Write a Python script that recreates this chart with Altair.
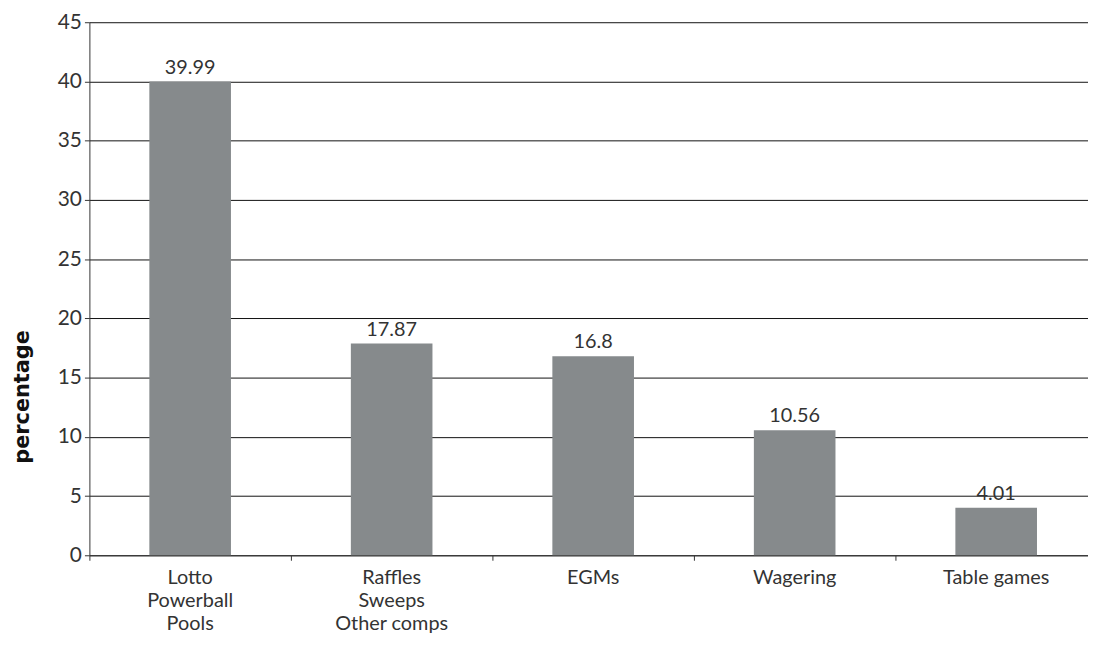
import altair as alt
import pandas as pd

categories = ["Lotto|Powerball|Pools", "Raffles|Sweeps|Other comps", "EGMs", "Wagering", "Table games"]
values = [39.99, 17.87, 16.8, 10.56, 4.01]
value_labels = ["39.99", "17.87", "16.8", "10.56", "4.01"]
y_ticks = [0, 5, 10, 15, 20, 25, 30, 35, 40, 45]

df = pd.DataFrame({"category": categories, "value": values, "label": value_labels})

FONT = "Lato"
TXT = "#333333"

x = alt.X("category:N", sort=categories, title=None,
          scale=alt.Scale(paddingInner=0, paddingOuter=0),
          axis=alt.Axis(labelAngle=0, labelExpr="split(datum.label, '|')",
                        labelFont=FONT, labelFontSize=20, labelColor=TXT,
                        labelLineHeight=23.5, labelPadding=7,
                        bandPosition=0, ticks=True, tickSize=5, tickColor=TXT,
                        domainColor=TXT, grid=False, labelBaseline="top"))

y = alt.Y("value:Q", title="percentage",
          scale=alt.Scale(domain=[0, 45], nice=False),
          axis=alt.Axis(values=y_ticks, labelFont=FONT, labelFontSize=21,
                        labelColor=TXT,
                        tickSize=5, tickColor=TXT, domainColor=TXT,
                        grid=True, gridColor="#111111", gridWidth=1, gridOpacity=1,
                        titleFont="DejaVu Sans", titleFontSize=21, titleFontWeight="bold",
                        titleColor="#111111", titlePadding=25, titleY=377, labelPadding=3))

bars = alt.Chart(df).mark_bar(color="#868a8c", width=alt.RelativeBandSize(0.405)).encode(x=x, y=y)
texts = alt.Chart(df).mark_text(baseline="bottom", dy=-4, font=FONT,
                                fontSize=20, color=TXT).encode(
    x=alt.X("category:N", sort=categories), y="value:Q", text="label:N")

chart = (bars + texts).properties(
    width=1015, height=537,
    autosize=alt.AutoSizeParams(type="none"),
    padding={"left": 82, "top": 12, "right": -9, "bottom": 80},
).configure_view(stroke=None)

chart.save("out.html", embed_options={"renderer": "svg", "actions": False})
